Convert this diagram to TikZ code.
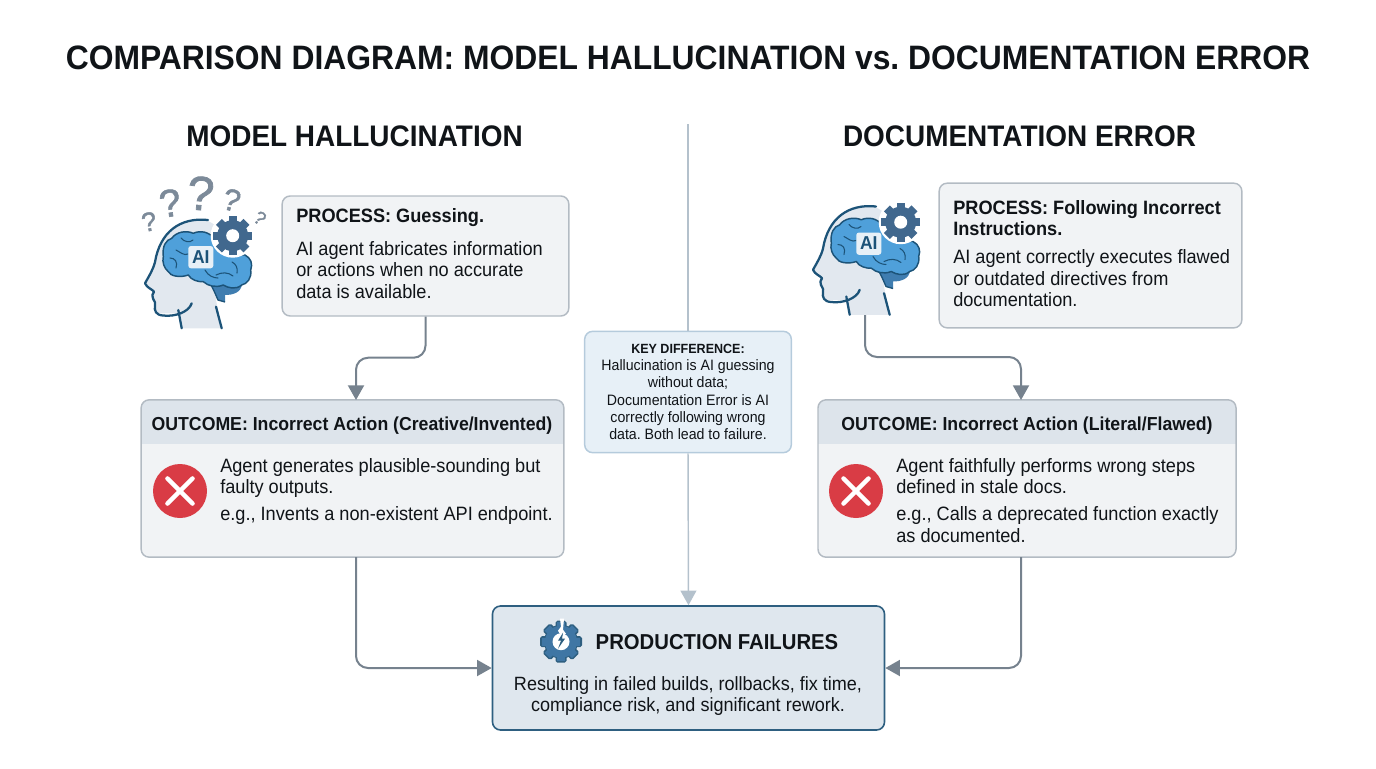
\documentclass[tikz,border=0pt]{standalone}
\usepackage{fontspec}
\setmainfont[FakeStretch=0.94]{Liberation Sans}
\newfontfamily\quesfont[FakeBold=1.6]{Liberation Sans}
\usetikzlibrary{arrows.meta}
\definecolor{inkdark}{HTML}{101418}
\definecolor{boxline}{HTML}{B3BBC3}
\definecolor{boxfill}{HTML}{F1F3F5}
\definecolor{bandfill}{HTML}{DDE4EB}
\definecolor{connline}{HTML}{76828E}
\definecolor{dividerline}{HTML}{B4C1CC}
\definecolor{keyline}{HTML}{B5CBDC}
\definecolor{keyfill}{HTML}{E7F0F7}
\definecolor{failline}{HTML}{2E5F80}
\definecolor{failfill}{HTML}{DFE7EE}
\definecolor{brainblue}{HTML}{4FA0DA}
\definecolor{braindark}{HTML}{3F7DB0}
\definecolor{headline}{HTML}{1C5378}
\definecolor{headfill}{HTML}{E2E8EF}
\definecolor{gearblue}{HTML}{41688E}
\definecolor{failgear}{HTML}{3F76A4}
\definecolor{quescolor}{HTML}{7C8A99}
\definecolor{crossred}{HTML}{D93C45}
\frenchspacing
\begin{document}
\begin{tikzpicture}[%
    x=0.75pt, y=-0.75pt,
    titletext/.style={font=\bfseries\fontsize{25.4}{30}\selectfont, text=inkdark, inner sep=0pt},
    sidetitle/.style={font=\bfseries\fontsize{22.3}{26}\selectfont, text=inkdark, inner sep=0pt},
    procbox/.style={rectangle, draw=boxline, fill=boxfill, line width=1.1pt, rounded corners=6pt, inner sep=0pt},
    outbox/.style={procbox, path picture={\fill[bandfill, sharp corners] (path picture bounding box.north west) rectangle ([yshift=-33pt]path picture bounding box.north east);}},
    bodytext/.style={anchor=north west, align=left, inner sep=0pt, text=inkdark, font=\fontsize{14.5}{16.1}\selectfont},
    bandtext/.style={inner sep=0pt, text=inkdark, font=\bfseries\fontsize{14.1}{16}\selectfont},
    keybox/.style={rectangle, draw=keyline, fill=keyfill, line width=1.1pt, rounded corners=6pt, minimum width=155pt, minimum height=91pt, align=center, inner sep=0pt, text=inkdark, font=\fontsize{11.3}{13}\selectfont},
    failbox/.style={rectangle, draw=failline, fill=failfill, line width=1.2pt, rounded corners=6pt, minimum width=294pt, minimum height=93pt, inner sep=0pt},
    conn/.style={draw=connline, line width=1.5pt, rounded corners=9pt, -{Triangle[width=12pt,length=11pt,fill=connline]}},
    divider/.style={draw=dividerline, line width=1.1pt},
    quesmark/.style={inner sep=0pt, text=quescolor, font=\quesfont\fontsize{#1}{#1}\selectfont},
    pics/gearicon/.style={code={
        \foreach \a in {0,45,...,315}
            \fill[gearblue, rotate=\a] (-4.2,-19.5) rectangle (4.2,0);
        \fill[gearblue] (0,0) circle (15.5);
        \fill[white] (0,0) circle (6.5);
    }},
    pics/failgearicon/.style={code={
        \foreach \a in {0,45,...,315}
            \draw[failline, fill=failline, line width=1.5pt, rounded corners=1pt, rotate=\a] (-4.5,-20) rectangle (4.5,0);
        \fill[failline] (0,0) circle (17);
        \foreach \a in {0,45,...,315}
            \fill[failgear, rotate=\a] (-3.8,-19.4) rectangle (3.8,0);
        \fill[failgear] (0,0) circle (16);
        \fill[white] (0,0) circle (8.5);
        \fill[white] (-1,-23) -- (3,-23) -- (2,-12) -- (5,-8) -- (0,-6) -- (-3,-11) -- (0,-15) -- cycle;
        \fill[failline] (2,-9) -- (-3,-1) -- (0,-1) -- (-3,7) -- (4,-3) -- (1,-3) -- cycle;
    }},
    pics/erroricon/.style={code={
        \fill[crossred] (0,0) circle (27);
        \draw[white, line width=3.4pt, line cap=round] (-12.5,-12.5) -- (12.5,12.5);
        \draw[white, line width=3.4pt, line cap=round] (-12.5,12.5) -- (12.5,-12.5);
    }},
    pics/brainhead/.style={code={
        % head
        \fill[headfill] (206.7,220) .. controls (180,218) and (160,232) .. (155,262)
            -- (145,283.3) -- (154,291.7) -- (151.7,298) -- (155,303) -- (156,313.3)
            -- (180,313.3) -- (181.7,328.3) -- (221.7,328.3) -- (216,300) -- (240,240) -- cycle;
        \draw[headline, line width=1.7pt, line cap=round, line join=round]
            (208,220) .. controls (180,217) and (160,232) .. (155,262)
            .. controls (153,270) and (149,276) .. (145,283.3)
            .. controls (147,288) and (152,289) .. (154,291.7)
            .. controls (152,294) and (152,296) .. (153,298.5)
            .. controls (153,301) and (156,301) .. (155,305)
            .. controls (154,311) and (156,315) .. (163,315.5)
            .. controls (175,317) and (189,312) .. (191.7,303.3);
        \draw[headline, line width=1.7pt, line cap=round] (178.3,310) -- (181.7,328.3);
        \draw[headline, line width=1.7pt, line cap=round] (216,306.7) -- (221.7,328.3);
        % brain
        \fill[braindark] (208,280) -- (242,283) .. controls (242,293) and (232,295) .. (225,295)
            -- (225,302) -- (218,300) .. controls (215,293) and (213,288) .. (208,280) -- cycle;
        \draw[headline, line width=1pt] (225,302) -- (218,300) .. controls (215,293) and (213,288) .. (208,280);
        \draw[headline, line width=1.1pt, fill=brainblue, line join=round]
            (163.3,256.7) .. controls (162,246) and (166,240) .. (171.7,238.3)
            .. controls (176,232) and (186,230) .. (193.3,233.3)
            .. controls (200,230) and (210,232) .. (213.3,238.3)
            .. controls (218,244) and (224,252) .. (230,255)
            .. controls (235,257) and (240,254) .. (245,255)
            .. controls (251,258) and (253,264) .. (250.7,270)
            .. controls (252,278) and (247,284) .. (241.7,285)
            .. controls (236,290) and (228,288) .. (223.3,285)
            .. controls (216,288) and (208,286) .. (203.3,281.7)
            .. controls (198,282) and (191,280) .. (188.3,275)
            .. controls (180,278) and (170,276) .. (168.3,271.7)
            .. controls (164,268) and (162,262) .. (163.3,256.7) -- cycle;
        \foreach \s in {{(170,258) .. controls (175,258) and (178,262) .. (176,268)},
                        {(176,250) .. controls (180,252) and (184,256) .. (188,254)},
                        {(181,238) .. controls (184,242) and (190,243) .. (193,240)},
                        {(216,275) .. controls (222,272) and (228,272) .. (233,276)},
                        {(232,262) .. controls (236,264) and (238,268) .. (237,273)},
                        {(205,270) .. controls (208,276) and (214,278) .. (218,278)}}
            \draw[headline, line width=0.8pt, line cap=round] \s;
        % gear sits on a white halo
        \fill[white] (232.7,235.7) circle (22);
        \pic at (232.7,235.7) {gearicon};
        % label tag
        \fill[keyfill, rounded corners=2pt] (188.3,246) rectangle (213.3,268.3);
        \node[inner sep=0pt, text=headline, font=\bfseries\fontsize{14}{14}\selectfont] (tag) at (200.8,257) {AI};
    }},
]
\useasboundingbox (0,0) rectangle (1376,768);

% Titles
\node[titletext] (maintitle) at (688,58) {COMPARISON DIAGRAM: MODEL HALLUCINATION vs. DOCUMENTATION ERROR};
\node[sidetitle] (halltitle) at (354.5,136) {MODEL HALLUCINATION};
\node[sidetitle] (doctitle)  at (1019.5,136) {DOCUMENTATION ERROR};

% Left icon
\pic at (0,0) {brainhead};
\node[quesmark=36] (q1) at (200.7,193.3) [rotate=-5] {?};
\node[quesmark=29] (q2) at (170,203) [rotate=8] {?};
\node[quesmark=23] (q3) at (231.7,200) [rotate=-15] {?};
\node[quesmark=20] (q4) at (149,221.7) [rotate=10] {?};
\node[quesmark=14] (q5) at (260,218) [rotate=-35] {?};

% Right icon
\pic at (668,-13.5) {brainhead};
\coordinate (headR) at (865,315);

% Process boxes
\node[procbox, minimum width=215pt, minimum height=90pt]   (procL) at (425.5,256) {};
\node[bodytext] (procLtext) at (296,208) {\textbf{PROCESS: Guessing.}\\[8.6pt]AI agent fabricates information\\or actions when no accurate\\data is available.};
\node[procbox, minimum width=227pt, minimum height=108.5pt] (procR) at (1090.5,255.5) {};
\node[bodytext] (procRtext) at (953,200) {\textbf{PROCESS: Following Incorrect}\\\textbf{Instructions.}\\[5pt]AI agent correctly executes flawed\\or outdated directives from\\documentation.};

% Outcome boxes
\node[outbox, minimum width=317pt, minimum height=118pt]   (outL) at (352.5,478.5) {};
\node[bandtext] (bandL) at (352,425.5) {OUTCOME: Incorrect Action (Creative/Invented)};
\pic at (180,491) {erroricon};
\node[bodytext] (outLtext) at (220,458) {Agent generates plausible-sounding but\\faulty outputs.\\[4pt]e.g., Invents a non-existent API endpoint.};
\node[outbox, minimum width=313.5pt, minimum height=118pt] (outR) at (1027,478.5) {};
\node[bandtext] (bandR) at (1027,425.5) {OUTCOME: Incorrect Action (Literal/Flawed)};
\pic at (856,491) {erroricon};
\node[bodytext] (outRtext) at (896,458) {Agent faithfully performs wrong steps\\defined in stale docs.\\[4pt]e.g., Calls a deprecated function exactly\\as documented.};

% Centre
\coordinate (divtop) at (688,124);
\node[keybox] (keydiff) at (688,392) {{\bfseries\fontsize{10}{13}\selectfont KEY DIFFERENCE:}\\Hallucination is AI guessing\\without data;\\Documentation Error is AI\\correctly following wrong\\data. Both lead to failure.};

% Failure box
\node[failbox] (fail) at (688.5,668) {};
\pic at (561,641.7) {failgearicon};
\node[inner sep=0pt, text=inkdark, font=\bfseries\fontsize{16.2}{18}\selectfont] (failtitle) at (717,642) {PRODUCTION FAILURES};
\node[inner sep=0pt, text=inkdark, align=center, font=\fontsize{14.4}{16.4}\selectfont] (failtext) at (688,696) {Resulting in failed builds, rollbacks, fix time,\\compliance risk, and significant rework.};

% Lines
\coordinate (outLin) at (356,400);
\coordinate (outRin) at (1021,400);
\coordinate (outLout) at (356,557);
\coordinate (outRout) at (1021,557);
\draw[conn] (procL.south) -- ++(0,41) -| (outLin);
\draw[conn] (headR) -- ++(0,42) -| (outRin);
\draw[conn] (outLout) |- (fail.west);
\draw[conn] (outRout) |- (fail.east);
\draw[divider] (divtop) -- (keydiff.north);
\draw[divider, -{Triangle[width=12pt,length=11pt,fill=dividerline]}] (keydiff.south) -- (fail.north);

\end{tikzpicture}
\end{document}
